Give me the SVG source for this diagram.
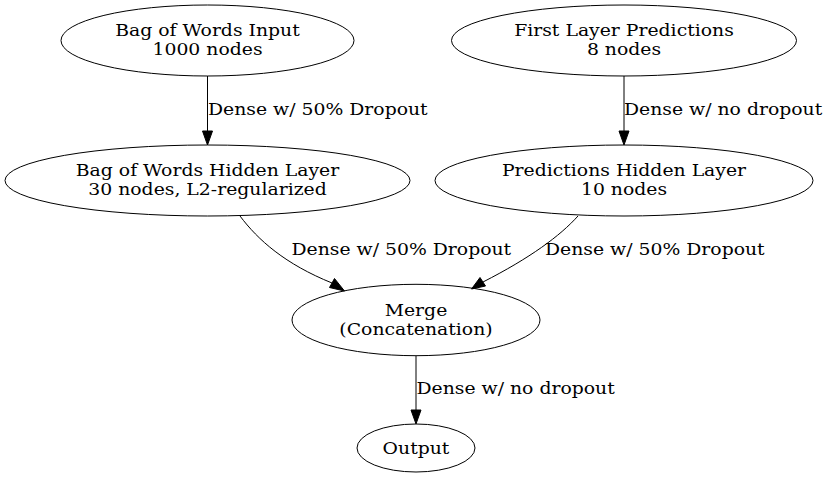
<svg xmlns="http://www.w3.org/2000/svg" width="827" height="478" viewBox="0 0 827 478">
<style>
  .node ellipse { fill: none; stroke: #000; stroke-width: 1; }
  text { font-family: "DejaVu Serif", serif; font-size: 16.5px; fill: #000; }
  .node text { text-anchor: middle; }
  .edges path { fill: none; stroke: #000; stroke-width: 1; }
  .edges polygon { fill: #000; stroke: #000; stroke-width: 1; }
</style>
<rect width="827" height="478" fill="#fff"/>
<g id="bow_input" class="node">
  <ellipse cx="207.5" cy="40.5" rx="146.5" ry="35.5"/>
  <text transform="translate(207.5 36) scale(1.14 1)">Bag of Words Input</text>
  <text transform="translate(207.5 55) scale(1.14 1)">1000 nodes</text>
</g>
<g id="first_layer_predictions" class="node">
  <ellipse cx="624" cy="40.5" rx="172.5" ry="35.5"/>
  <text transform="translate(624 36) scale(1.14 1)">First Layer Predictions</text>
  <text transform="translate(624 55) scale(1.14 1)">8 nodes</text>
</g>
<g id="bow_hidden" class="node">
  <ellipse cx="207.5" cy="180.5" rx="202.5" ry="35.5"/>
  <text transform="translate(207.5 176) scale(1.14 1)">Bag of Words Hidden Layer</text>
  <text transform="translate(207.5 195) scale(1.14 1)">30 nodes, L2-regularized</text>
</g>
<g id="predictions_hidden" class="node">
  <ellipse cx="624" cy="180.5" rx="189" ry="35.5"/>
  <text transform="translate(624 176) scale(1.14 1)">Predictions Hidden Layer</text>
  <text transform="translate(624 195) scale(1.14 1)">10 nodes</text>
</g>
<g id="merge" class="node">
  <ellipse cx="416" cy="320" rx="124" ry="35.7"/>
  <text transform="translate(416 315.5) scale(1.14 1)">Merge</text>
  <text transform="translate(416 334.5) scale(1.14 1)">(Concatenation)</text>
</g>
<g id="output" class="node">
  <ellipse cx="416" cy="448" rx="59" ry="24"/>
  <text transform="translate(416 453.5) scale(1.14 1)">Output</text>
</g>
<g id="edges" class="edges">
  <path d="M207.5,76 L207.5,131"/>
  <polygon points="202.5,131 212.5,131 207.5,145"/>
  <text transform="translate(208 115) scale(1.14 1)">Dense w/ 50% Dropout</text>
  <path d="M624,76 L624,131"/>
  <polygon points="619,131 629,131 624,145"/>
  <text transform="translate(624 115) scale(1.14 1)">Dense w/ no dropout</text>
  <path d="M240,216 C258,240 285,264 332,283"/>
  <polygon points="329.5,287.5 334.5,278.5 344.5,291"/>
  <text transform="translate(291.5 255) scale(1.14 1)">Dense w/ 50% Dropout</text>
  <path d="M578,216 C560,236 530,258 483,282"/>
  <polygon points="480,277.5 485.5,286 471.5,289"/>
  <text transform="translate(545 255) scale(1.14 1)">Dense w/ 50% Dropout</text>
  <path d="M416,356 L416,410"/>
  <polygon points="411,410 421,410 416,424"/>
  <text transform="translate(416.5 394) scale(1.14 1)">Dense w/ no dropout</text>
</g>
</svg>
